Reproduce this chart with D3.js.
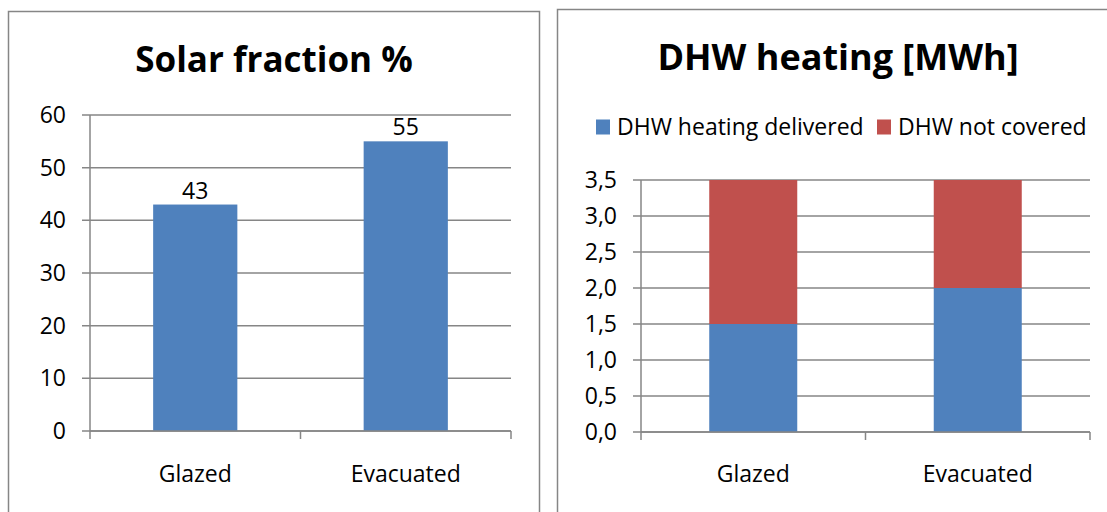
<!DOCTYPE html>
<html>
<head>
<meta charset="utf-8">
<script src="https://cdn.jsdelivr.net/npm/d3@7"></script>
<style>
  body { margin: 0; background: #fff; }
  text { font-family: "Open Sans", sans-serif; fill: #000; }
</style>
</head>
<body>
<svg id="chart" width="1107" height="512"></svg>
<script>
// data
const categories = ['Glazed', 'Evacuated'];
const solarFraction = [43, 55];
const solarTicks = [0, 10, 20, 30, 40, 50, 60];

const dhwSeries = ['DHW heating delivered', 'DHW not covered'];
const dhwDelivered = [1.5, 2.0];
const dhwNotCovered = [2.0, 1.5];
const dhwTicks = [0, 0.5, 1, 1.5, 2, 2.5, 3, 3.5];

const colors = ['#4f81bd', '#c0504d'];
const gridColor = '#868686';
const labelSize = '23px';
const titleSize = '35px';

const svg = d3.select('#chart');

// panel frames
svg.append('rect')
  .attr('x', 8.5).attr('y', 11.5).attr('width', 531).attr('height', 520)
  .attr('fill', 'none').attr('stroke', gridColor).attr('stroke-width', 1.5);
svg.append('rect')
  .attr('x', 557.5).attr('y', 9.5).attr('width', 600).attr('height', 520)
  .attr('fill', 'none').attr('stroke', gridColor).attr('stroke-width', 1.5);

function drawAxes(g, x, y, ticks, fmt) {
  let [x0, x1] = x.range();
  let [yb, yt] = y.range();

  g.selectAll('.grid')
    .data(ticks)
    .enter()
    .append('line')
    .attr('x1', x0 - 8).attr('x2', x1)
    .attr('y1', (d) => y(d)).attr('y2', (d) => y(d))
    .attr('stroke', gridColor).attr('stroke-width', 1.5);

  g.selectAll('.ylabel')
    .data(ticks)
    .enter()
    .append('text')
    .attr('x', x0 - 24)
    .attr('y', (d) => y(d))
    .attr('dy', '0.35em')
    .attr('text-anchor', 'end')
    .style('font-size', labelSize)
    .text(fmt);

  g.append('line')
    .attr('x1', x0).attr('x2', x0).attr('y1', yt).attr('y2', yb)
    .attr('stroke', gridColor).attr('stroke-width', 1.5);

  // category boundary ticks
  let step = x.step();
  let bounds = d3.range(categories.length + 1).map((i) => x0 + i * step);
  g.selectAll('.xtick')
    .data(bounds)
    .enter()
    .append('line')
    .attr('x1', (d) => d).attr('x2', (d) => d)
    .attr('y1', yb).attr('y2', yb + 8)
    .attr('stroke', gridColor).attr('stroke-width', 1.5);

  g.selectAll('.xlabel')
    .data(categories)
    .enter()
    .append('text')
    .attr('x', (d) => x(d) + x.bandwidth() / 2)
    .attr('y', 482)
    .attr('text-anchor', 'middle')
    .style('font-size', labelSize)
    .text((d) => d);
}

// left chart: Solar fraction
let left = svg.append('g');
left.append('text')
  .attr('x', 274).attr('y', 72)
  .attr('text-anchor', 'middle')
  .style('font-size', titleSize).style('font-weight', 'bold')
  .text('Solar fraction %');

let x1 = d3.scaleBand().domain(categories).range([90, 511])
  .paddingInner(0.6).paddingOuter(0.3);
let y1 = d3.scaleLinear().domain([0, 60]).range([431, 115]);

drawAxes(left, x1, y1, solarTicks, (d) => d);

left.selectAll('.bar')
  .data(solarFraction)
  .enter()
  .append('rect')
  .attr('x', (d, i) => x1(categories[i]))
  .attr('width', x1.bandwidth())
  .attr('y', (d) => y1(d))
  .attr('height', (d) => y1(0) - y1(d))
  .attr('fill', colors[0]);

left.selectAll('.value')
  .data(solarFraction)
  .enter()
  .append('text')
  .attr('x', (d, i) => x1(categories[i]) + x1.bandwidth() / 2)
  .attr('y', (d) => y1(d) - 6)
  .attr('text-anchor', 'middle')
  .style('font-size', labelSize)
  .text((d) => d);

// redraw baseline over bars
left.append('line')
  .attr('x1', 90).attr('x2', 511).attr('y1', y1(0)).attr('y2', y1(0))
  .attr('stroke', gridColor).attr('stroke-width', 1.5);

// right chart: DHW heating
let right = svg.append('g');
right.append('text')
  .attr('x', 838).attr('y', 70)
  .attr('text-anchor', 'middle')
  .style('font-size', '36px').style('font-weight', 'bold')
  .text('DHW heating [MWh]');

let x2 = d3.scaleBand().domain(categories).range([641, 1090])
  .paddingInner(0.608).paddingOuter(0.304);
let y2 = d3.scaleLinear().domain([0, 3.5]).range([432, 180]);

drawAxes(right, x2, y2, dhwTicks, (d) => d3.format('.1f')(d).replace('.', ','));

let stackData = categories.map((c, i) => ({
  cat: c, delivered: dhwDelivered[i], notCovered: dhwNotCovered[i]
}));
let stack = d3.stack().keys(['delivered', 'notCovered'])(stackData);

right.selectAll('.layer')
  .data(stack)
  .enter()
  .append('g')
  .attr('fill', (d, i) => colors[i])
  .selectAll('rect')
  .data((d) => d)
  .enter()
  .append('rect')
  .attr('x', (d) => x2(d.data.cat))
  .attr('width', x2.bandwidth())
  .attr('y', (d) => y2(d[1]))
  .attr('height', (d) => y2(d[0]) - y2(d[1]));

right.append('line')
  .attr('x1', 641).attr('x2', 1090).attr('y1', y2(0)).attr('y2', y2(0))
  .attr('stroke', gridColor).attr('stroke-width', 1.5);

// legend
let legendX = [596, 877];
let legend = right.selectAll('.legend')
  .data(dhwSeries)
  .enter()
  .append('g')
  .attr('transform', (d, i) => `translate(${legendX[i]},127)`);
legend.append('rect')
  .attr('x', 0).attr('y', -7.5)
  .attr('width', 14).attr('height', 15)
  .attr('fill', (d, i) => colors[i]);
legend.append('text')
  .attr('x', 21).attr('y', 0)
  .attr('dy', '0.35em')
  .style('font-size', labelSize)
  .text((d) => d);
</script>
</body>
</html>
